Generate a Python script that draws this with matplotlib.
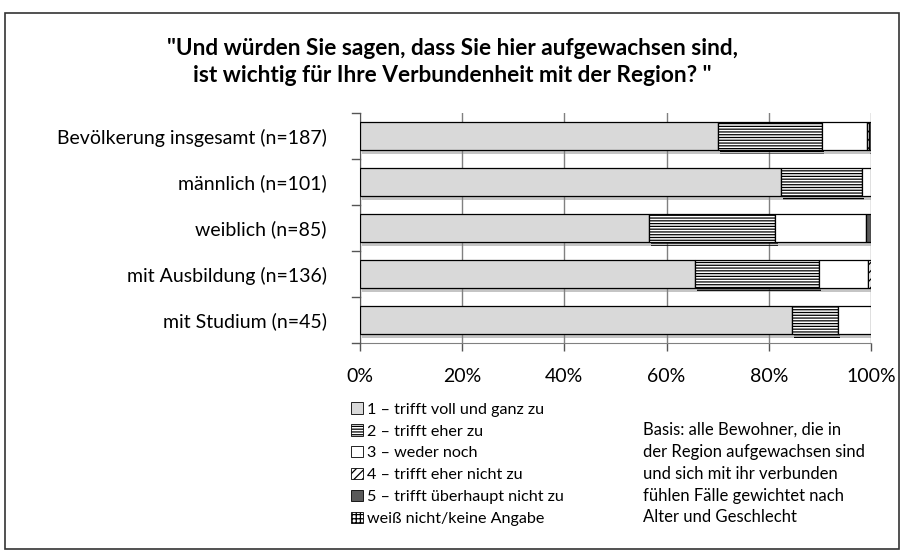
import matplotlib
matplotlib.use('Agg')
import matplotlib.pyplot as plt
from matplotlib.patches import Patch, Rectangle
from matplotlib import patheffects as pe

plt.rcParams['font.family'] = ['Lato', 'DejaVu Sans']
plt.rcParams['hatch.linewidth'] = 0.9

# Daten
categories = ['Bevölkerung insgesamt (n=187)', 'männlich (n=101)', 'weiblich (n=85)',
              'mit Ausbildung (n=136)', 'mit Studium (n=45)']
s1_voll = [70.1, 82.3, 56.6, 65.6, 84.6]
s2_eher = [20.3, 16.0, 24.7, 24.3, 9.0]
s3_weder = [8.9, 1.7, 17.7, 9.6, 6.4]
s4_eher_nicht = [0.4, 0.0, 0.0, 0.5, 0.0]
s5_ueberhaupt = [0.3, 0.0, 1.0, 0.0, 0.0]
s6_weiss = [0.0, 0.0, 0.0, 0.0, 0.0]

series_labels = ['1 – trifft voll und ganz zu', '2 – trifft eher zu', '3 – weder noch',
                 '4 – trifft eher nicht zu', '5 – trifft überhaupt nicht zu',
                 'weiß nicht/keine Angabe']
x_ticks = [0, 20, 40, 60, 80, 100]
x_ticklabels = ['0%', '20%', '40%', '60%', '80%', '100%']

title = '"Und würden Sie sagen, dass Sie hier aufgewachsen sind,\nist wichtig für Ihre Verbundenheit mit der Region? "'
basis = ('Basis: alle Bewohner, die in\nder Region aufgewachsen sind\n'
         'und sich mit ihr verbunden\nfühlen Fälle gewichtet nach\nAlter und Geschlecht')

# Stile
styles = [
    dict(facecolor='#d9d9d9', hatch=None),
    dict(facecolor='white', hatch='------'),
    dict(facecolor='white', hatch=None),
    dict(facecolor='white', hatch='////'),
    dict(facecolor='#595959', hatch=None),
    dict(facecolor='white', hatch='++++'),
]

fig = plt.figure(figsize=(9.05, 5.52), dpi=100)
ax = fig.add_axes([360 / 905, 1 - 343 / 552, 511 / 905, 230 / 552])

all_series = [s1_voll, s2_eher, s3_weder, s4_eher_nicht, s5_ueberhaupt, s6_weiss]
ypos = list(range(len(categories)))
left = [0.0] * len(categories)
shadow = [pe.SimplePatchShadow(offset=(1.5, -2.5), shadow_rgbFace='#808080', alpha=0.45), pe.Normal()]

for vals, st in zip(all_series, styles):
    for i, v in enumerate(vals):
        if v > 0:
            b = ax.barh(i, v, left=left[i], height=0.62, facecolor=st['facecolor'],
                        hatch=st['hatch'], edgecolor='black', linewidth=0.9, zorder=3)
            b.patches[0].set_path_effects(shadow)
        left[i] += v

ax.set_xlim(0, 100)
ax.set_ylim(len(categories) - 0.5, -0.5)
ax.set_xticks(x_ticks)
ax.set_xticklabels(x_ticklabels, fontsize=14)
ax.set_yticks(ypos)
ax.set_yticklabels(categories, fontsize=14)
ax.tick_params(axis='y', length=0, pad=24)
ax.tick_params(axis='x', length=6, width=1, color='#555555', pad=12)
for y in [-0.5, 0.5, 1.5, 2.5, 3.5, 4.5]:
    ax.plot([-1.6, 0], [y, y], color='#555555', lw=1, clip_on=False, zorder=4)
ax.grid(axis='x', color='#808080', lw=1, zorder=1)
for s in ['top', 'right']:
    ax.spines[s].set_visible(False)
ax.spines['left'].set_color('#555555')
ax.spines['bottom'].set_color('#808080')

fig.text(0.5, 1 - 62 / 552, title, ha='center', va='center', fontsize=16.3,
         fontweight='bold', linespacing=1.35)

handles = [Patch(facecolor=st['facecolor'], hatch=st['hatch'], edgecolor='black', linewidth=0.6)
           for st in styles]
fig.legend(handles, series_labels, loc='upper left', bbox_to_anchor=(345 / 905, 1 - 396 / 552),
           frameon=False, fontsize=11.6, handlelength=0.7, handleheight=0.7,
           handletextpad=0.25, labelspacing=0.47, borderaxespad=0)

fig.text(643 / 905, 1 - 422 / 552, basis, ha='left', va='top', fontsize=12, linespacing=1.45)

fig.patches.append(Rectangle((5 / 905, 1 - 549 / 552), 894 / 905, 536 / 552, transform=fig.transFigure,
                             fill=False, edgecolor='#333333', linewidth=1.2))

plt.savefig('out.png', dpi=100, facecolor='white')
